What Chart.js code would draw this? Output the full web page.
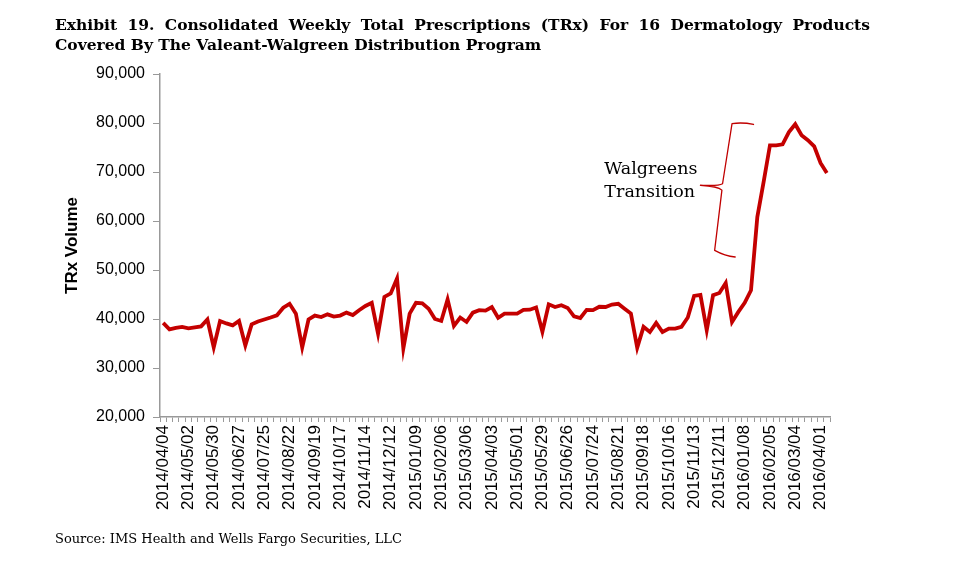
<!DOCTYPE html>
<html><head><meta charset="utf-8">
<script src="https://cdn.jsdelivr.net/npm/chart.js@4.4.0/dist/chart.umd.min.js"></script>
<style>
html,body{margin:0;padding:0;background:#fff;}
#wrap{position:relative;width:960px;height:565px;overflow:hidden;}
#c{position:absolute;left:0;top:0;}
.title{position:absolute;left:55px;width:815px;font-family:"DejaVu Serif",serif;font-weight:bold;font-size:15.5px;line-height:19px;color:#000;white-space:nowrap;}
#t1{top:15px;text-align:justify;text-align-last:justify;white-space:normal;}
#t2{top:35px;}
#src{position:absolute;left:55px;top:531px;font-family:"DejaVu Serif",serif;font-size:13px;line-height:16px;color:#000;}
</style></head>
<body><div id="wrap"><canvas id="c" width="960" height="565"></canvas>
<div class="title" id="t1">Exhibit 19. Consolidated Weekly Total Prescriptions (TRx) For 16 Dermatology Products</div>
<div class="title" id="t2">Covered By The Valeant-Walgreen Distribution Program</div>
<div id="src">Source: IMS Health and Wells Fargo Securities, LLC</div>
</div>
<script>
// Weekly categories (every Friday from 2014/04/04 to 2016/04/08)
const startDate = [2014, 4, 4];
const weekCount = 106;
const categories = [];
(function(){
  const d = new Date(Date.UTC(startDate[0], startDate[1]-1, startDate[2]));
  for (let i = 0; i < weekCount; i++) {
    const y = d.getUTCFullYear(), m = String(d.getUTCMonth()+1).padStart(2,'0'), dd = String(d.getUTCDate()).padStart(2,'0');
    categories.push(y + '/' + m + '/' + dd);
    d.setUTCDate(d.getUTCDate() + 7);
  }
})();

const trxVolume = [
  39200, 37900, 38200, 38400, 38100, 38300, 38500, 39900, 34200, 39600,
  39100, 38700, 39600, 34600, 38900, 39500, 39900, 40300, 40750, 42300,
  43100, 41100, 34200, 39900, 40700, 40400, 40950, 40500, 40700, 41300,
  40800, 41800, 42650, 43300, 37000, 44500, 45200, 48250, 34000, 41100,
  43300, 43200, 42100, 40000, 39600, 44000, 38600, 40300, 39400, 41300,
  41800, 41700, 42450, 40250, 41100, 41100, 41100, 41850, 41900, 42350,
  37400, 43000, 42450, 42800, 42250, 40550, 40200, 41850, 41800, 42500,
  42450, 42950, 43100, 42100, 41100, 34150, 38400, 37350, 39200, 37350,
  38050, 38050, 38400, 40300, 44700, 44900, 37700, 44850, 45300, 47350,
  39400, 41450, 43300, 45850, 60800, 68000, 75450, 75450, 75650, 78150,
  79750, 77500, 76500, 75250, 71850, 69800
];

const yTicks = [20000, 30000, 40000, 50000, 60000, 70000, 80000, 90000];
const labelEvery = 4;
const annotationLines = ['Walgreens', 'Transition'];

const annotPlugin = {
  id: 'annot',
  afterDatasetsDraw(chart) {
    const {ctx, scales: {x, y}} = chart;
    const P = (i, v) => [x.getPixelForValue(i), y.getPixelForValue(v)];
    ctx.save();
    ctx.strokeStyle = '#C00000';
    ctx.lineWidth = 1.3;
    ctx.lineJoin = 'round';
    ctx.lineCap = 'round';
    const a = P(93.4, 79700), b = P(90.0, 79880), c = P(88.5, 67600), t = P(85.0, 67300),
          d = P(88.4, 66300), e = P(87.25, 54000), f = P(90.5, 52650);
    ctx.beginPath();
    ctx.moveTo(a[0], a[1]);
    ctx.quadraticCurveTo((a[0]+b[0])/2, b[1]-1.5, b[0], b[1]);
    ctx.lineTo(c[0], c[1]);
    ctx.quadraticCurveTo(c[0]-4, t[1]+1, t[0], t[1]);
    ctx.moveTo(t[0], t[1]);
    ctx.quadraticCurveTo(d[0]-4, t[1]+1, d[0], d[1]);
    ctx.lineTo(e[0], e[1]);
    ctx.quadraticCurveTo((e[0]+f[0])/2, f[1]-1, f[0], f[1]);
    ctx.stroke();
    ctx.fillStyle = '#000';
    ctx.font = '17.5px "DejaVu Serif", serif';
    ctx.textBaseline = 'alphabetic';
    ctx.textAlign = 'left';
    const l1 = P(69.8, 69500), l2 = P(69.8, 64800);
    ctx.fillText(annotationLines[0], l1[0], l1[1]);
    ctx.fillText(annotationLines[1], l2[0], l2[1]);
    ctx.restore();
  }
};

new Chart(document.getElementById('c'), {
  type: 'line',
  data: {
    labels: categories,
    datasets: [{
      data: trxVolume,
      borderColor: '#C40000',
      borderWidth: 3.8,
      pointRadius: 0,
      tension: 0,
      fill: false
    }]
  },
  options: {
    responsive: false,
    animation: false,
    layout: {padding: {left: 0, right: 130, top: 74, bottom: 48}},
    plugins: {legend: {display: false}, tooltip: {enabled: false}, title: {display: false}},
    scales: {
      x: {
        type: 'category',
        offset: true,
        grid: {offset: true, drawOnChartArea: false, drawTicks: true, tickLength: 5, color: '#999', lineWidth: 1},
        border: {color: '#999', width: 1.5},
        ticks: {
          autoSkip: false, minRotation: 90, maxRotation: 90, padding: 3,
          color: '#000', font: {family: '"Liberation Sans", Arial, sans-serif', size: 17},
          callback: (v, i) => (i % labelEvery === 0 ? categories[i] : '')
        },
        afterFit: s => { s.height = 100; }
      },
      y: {
        min: yTicks[0], max: yTicks[yTicks.length-1],
        afterBuildTicks: s => { s.ticks = yTicks.map(v => ({value: v})); },
        grid: {drawOnChartArea: false, drawTicks: true, tickLength: 7, color: '#999', lineWidth: 1},
        border: {color: '#999', width: 1.5},
        ticks: {
          padding: 8, color: '#000', font: {family: '"Liberation Sans", Arial, sans-serif', size: 16},
          callback: v => Number(v).toLocaleString('en-US')
        },
        title: {
          display: true, text: 'TRx Volume', color: '#000',
          font: {family: '"Liberation Sans", Arial, sans-serif', size: 17, weight: 'bold'},
          padding: {top: 62, bottom: 0}
        },
        afterFit: s => { s.width = 160; }
      }
    }
  },
  plugins: [annotPlugin]
});
</script>
</body></html>
